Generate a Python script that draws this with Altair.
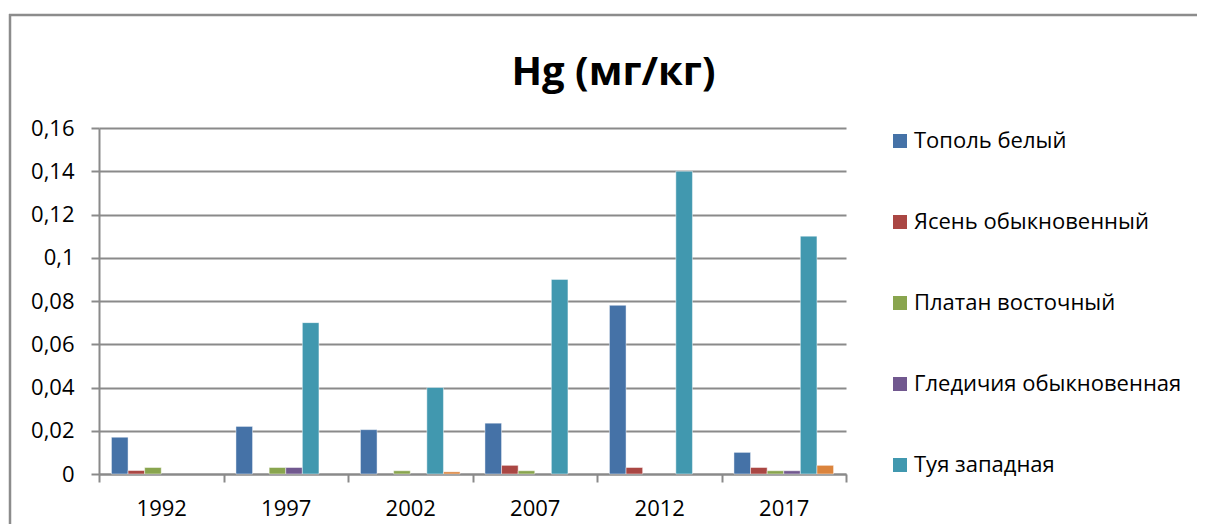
import altair as alt
import pandas as pd

years = ["1992", "1997", "2002", "2007", "2012", "2017"]
series = ["Тополь белый", "Ясень обыкновенный", "Платан восточный",
          "Гледичия обыкновенная", "Туя западная", "Прочие"]
topol = [0.017, 0.022, 0.0205, 0.0235, 0.078, 0.010]
yasen = [0.0016, 0.0, 0.0, 0.004, 0.003, 0.003]
platan = [0.003, 0.003, 0.0015, 0.0015, 0.0, 0.0015]
gledichia = [0.0, 0.003, 0.0, 0.0, 0.0, 0.0015]
tuya = [0.0, 0.07, 0.04, 0.09, 0.14, 0.11]
prochie = [0.0, 0.0, 0.001, 0.0, 0.0, 0.004]
colors = ["#4572A7", "#AA4643", "#89A54E", "#71588F", "#4198AF", "#DB843D"]
y_ticks = [0, 0.02, 0.04, 0.06, 0.08, 0.1, 0.12, 0.14, 0.16]

rows = []
for name, vals in zip(series, [topol, yasen, platan, gledichia, tuya, prochie]):
    for yr, v in zip(years, vals):
        if v > 0:
            rows.append({"year": yr, "series": name, "value": v})
df = pd.DataFrame(rows)

FONT = "Open Sans"
GRID = "#8a8a8a"

bars = alt.Chart(df).mark_bar(stroke="#ffffff", strokeOpacity=0.45, strokeWidth=1).encode(
    x=alt.X("year:N", sort=years, title=None,
            scale=alt.Scale(paddingInner=0, paddingOuter=0),
            axis=alt.Axis(labelAngle=0, tickBand="extent", tickSize=8, tickColor=GRID,
                          tickWidth=2, domainColor=GRID, domainWidth=2, grid=False,
                          labelFont=FONT, labelFontSize=22, labelColor="#000000",
                          labelPadding=16)),
    xOffset=alt.XOffset("series:N", sort=series,
                        scale=alt.Scale(paddingInner=0, paddingOuter=0.75)),
    y=alt.Y("value:Q", title=None,
            scale=alt.Scale(domain=[0, 0.16], nice=False),
            axis=alt.Axis(values=y_ticks, grid=True, gridColor=GRID, gridWidth=2,
                          tickSize=8, tickColor=GRID, tickWidth=2,
                          domainColor=GRID, domainWidth=2,
                          labelFont=FONT, labelFontSize=22, labelColor="#000000",
                          labelPadding=17,
                          labelExpr="replace(format(datum.value, '.2~f'), '.', ',')")),
    color=alt.Color("series:N", sort=series,
                    scale=alt.Scale(domain=series, range=colors),
                    legend=alt.Legend(values=series[:5], title=None, orient="none",
                                      legendX=790, legendY=2, padding=0,
                                      symbolType="square", symbolSize=196,
                                      symbolStrokeWidth=0, labelFont=FONT,
                                      labelFontSize=22, labelColor="#000000",
                                      labelOffset=3, rowPadding=59,
                                      labelLimit=400)),
)

one = pd.DataFrame({"k": [0]})
frame_top = alt.Chart(one).mark_rule(stroke="#8c8c8c", strokeWidth=2.5).encode(
    x=alt.value(-90), x2=alt.value(3000), y=alt.value(-113),
)
frame_left = alt.Chart(one).mark_rule(stroke="#8c8c8c", strokeWidth=2.5).encode(
    x=alt.value(-89), y=alt.value(-114), y2=alt.value(3000),
)

chart = alt.layer(frame_top, frame_left, bars).properties(
    width=747, height=346,
    title=alt.TitleParams("Hg (мг/кг)", font=FONT,
                          fontSize=40, fontWeight="bold",
                          color="#000000", anchor="middle", frame="group",
                          dx=141, offset=-112, baseline="alphabetic"),
    autosize=alt.AutoSizeParams(type="none"),
    padding={"left": 91, "top": 120, "right": 351, "bottom": 50},
).configure_view(stroke=None)

chart.save("out.html", embed_options={"renderer": "svg", "actions": False})
